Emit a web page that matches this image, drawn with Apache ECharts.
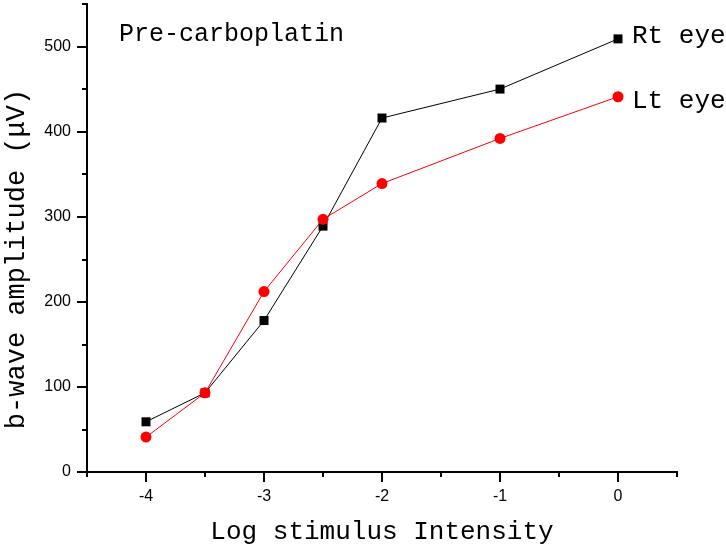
<!DOCTYPE html>
<html>
<head>
<meta charset="utf-8">
<script src="https://cdn.jsdelivr.net/npm/echarts@6/dist/echarts.min.js"></script>
<style>
html, body { margin: 0; padding: 0; background: #fff; }
#main { width: 726px; height: 544px; }
</style>
</head>
<body>
<div id="main"></div>
<script>
var myChart = echarts.init(document.getElementById('main'));

// log stimulus intensity
var xdata = [-4, -3.5, -3, -2.5, -2, -1, 0];
// b-wave amplitude (uV)
var rtEye = [59, 93, 178, 289, 416, 450, 509];
var ltEye = [41, 93, 212, 297, 339, 392, 441];

var xMajor = [-4, -3, -2, -1, 0];
var xMinor = [-4.5, -3.5, -2.5, -1.5, -0.5, 0.5];
var yMajor = [0, 100, 200, 300, 400, 500];
var yMinor = [50, 150, 250, 350, 450, 550];

var mono = 'Liberation Mono';
var sans = 'Liberation Sans';

function pairs(xs, ys) {
	var res = [];
	for (var i = 0; i < xs.length; i++) {
		res.push([xs[i], ys[i]]);
	}
	return res;
}

function axisBase(min, max) {
	return {
		type: 'value',
		min: min,
		max: max,
		splitLine: { show: false },
		axisLine: { show: true, onZero: false, lineStyle: { color: '#000', width: 2 } }
	};
}

var xMain = axisBase(-4.5, 0.5);
xMain.position = 'bottom';
xMain.axisTick = { show: true, customValues: xMajor, length: 10, lineStyle: { color: '#000', width: 2 } };
xMain.axisLabel = { customValues: xMajor, margin: 17, color: '#000', fontFamily: sans, fontSize: 16 };
xMain.name = 'Log stimulus Intensity';
xMain.nameLocation = 'middle';
xMain.nameGap = 47;
xMain.nameTextStyle = { fontFamily: mono, fontSize: 26, color: '#000' };

var xMinorAxis = axisBase(-4.5, 0.5);
xMinorAxis.position = 'bottom';
xMinorAxis.axisTick = { show: true, customValues: xMinor, length: 5, lineStyle: { color: '#000', width: 2 } };
xMinorAxis.axisLabel = { show: false };

var yMain = axisBase(0, 550);
yMain.position = 'left';
yMain.axisTick = { show: true, customValues: yMajor, length: 10, lineStyle: { color: '#000', width: 2 } };
yMain.axisLabel = { customValues: yMajor, margin: 16, color: '#000', fontFamily: sans, fontSize: 16 };
yMain.name = 'b-wave amplitude (μV)';
yMain.nameLocation = 'middle';
yMain.nameGap = 57;
yMain.nameTextStyle = { fontFamily: mono, fontSize: 27, color: '#000', padding: [0, 42, 0, 0] };

var yMinorAxis = axisBase(0, 550);
yMinorAxis.position = 'left';
yMinorAxis.axisTick = { show: true, customValues: yMinor, length: 5, lineStyle: { color: '#000', width: 2 } };
yMinorAxis.axisLabel = { show: false };

var option = {
	animation: false,
	backgroundColor: '#fff',
	grid: { left: 87, right: 49, top: 4, bottom: 72, containLabel: false, outerBoundsMode: 'none' },
	xAxis: [xMain, xMinorAxis],
	yAxis: [yMain, yMinorAxis],
	graphic: [
		{
			type: 'text',
			x: 119,
			y: 34,
			style: { text: 'Pre-carboplatin', fontFamily: mono, fontSize: 25, fill: '#000', verticalAlign: 'middle' }
		}
	],
	series: [
		{
			name: 'Rt eye',
			type: 'line',
			data: pairs(xdata, rtEye),
			symbol: 'rect',
			symbolSize: 9,
			lineStyle: { color: '#000', width: 1 },
			itemStyle: { color: '#000' },
			endLabel: { show: true, formatter: '{a}', distance: 14, offset: [0, -3], fontFamily: mono, fontSize: 26, color: '#000' }
		},
		{
			name: 'Lt eye',
			type: 'line',
			data: pairs(xdata, ltEye),
			symbol: 'circle',
			symbolSize: 11,
			lineStyle: { color: '#ff0000', width: 1 },
			itemStyle: { color: '#ff0000' },
			endLabel: { show: true, formatter: '{a}', distance: 14, offset: [0, 4], fontFamily: mono, fontSize: 26, color: '#000' }
		}
	]
};

myChart.setOption(option);
</script>
</body>
</html>
